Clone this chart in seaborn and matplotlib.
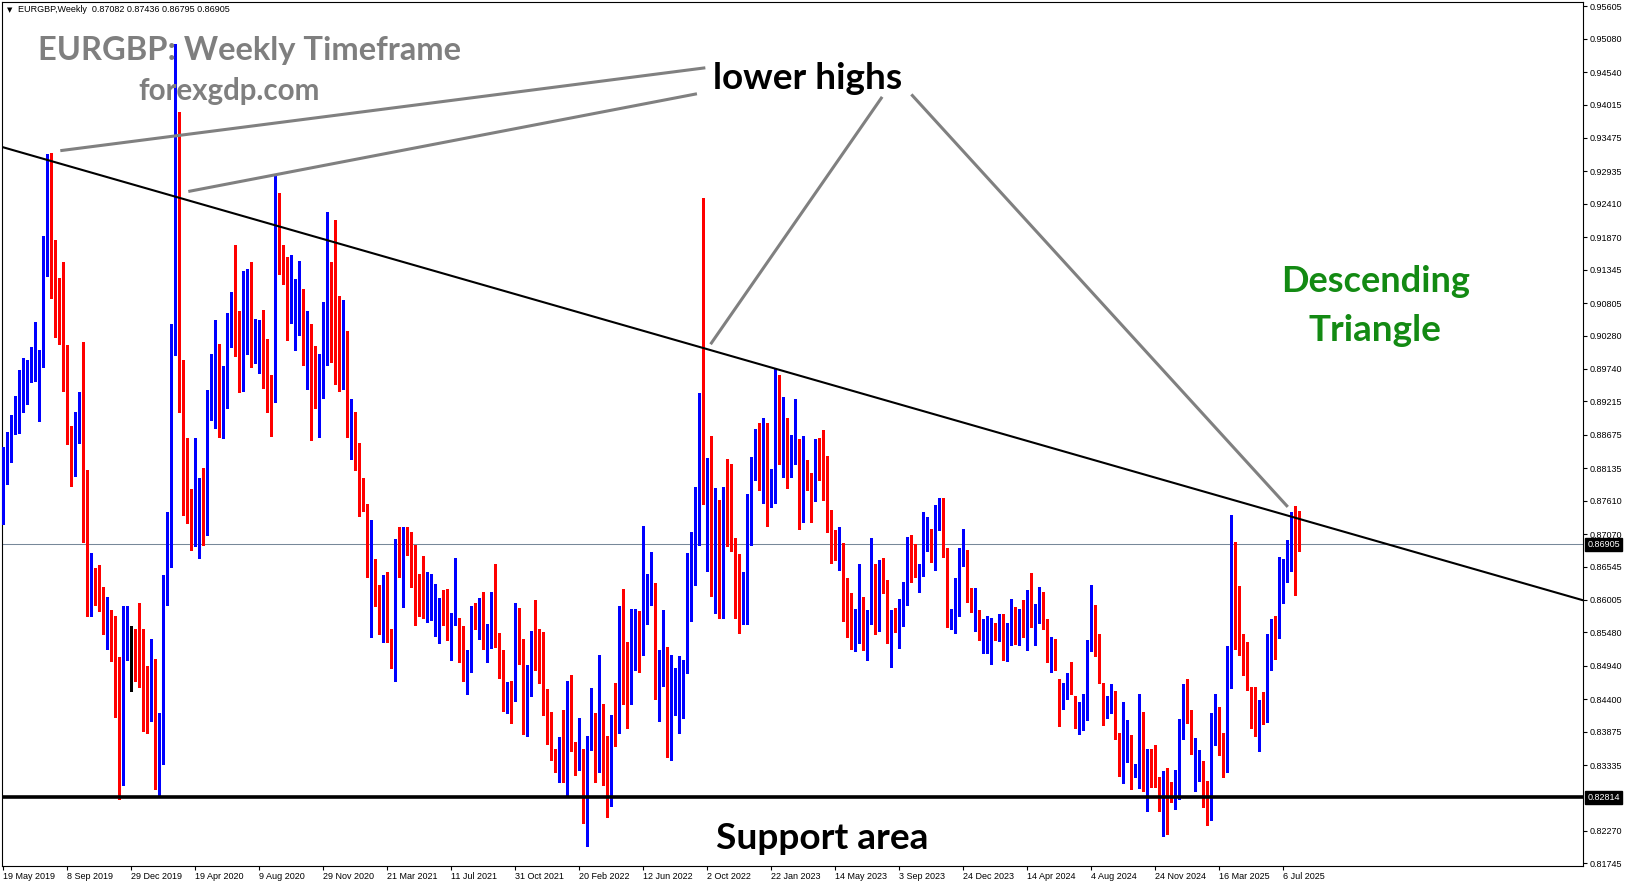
import numpy as np
import pandas as pd
import matplotlib
matplotlib.use('Agg')
import matplotlib.pyplot as plt
import seaborn as sns

W, H = 1631, 888

# weekly EURGBP candles, bar 0 = week of 19 May 2019, one bar per week
opens = [
    0.8753, 0.8799, 0.8834, 0.8886, 0.8902, 0.8925, 0.8935, 0.8954, 0.8960, 0.8969,
    0.8986, 0.9127, 0.9283, 0.9119, 0.9083, 0.9039, 0.8978, 0.8863, 0.8827, 0.8890,
    0.8906, 0.8725, 0.8616, 0.8642, 0.8636, 0.8607, 0.8547, 0.8568, 0.8535, 0.8416,
    0.8335, 0.8519, 0.8531, 0.8528, 0.8526, 0.8531, 0.8431, 0.8409, 0.8484, 0.8305,
    0.8337, 0.8635, 0.8672, 0.9009, 0.9164, 0.8937, 0.8831, 0.8775, 0.8690, 0.8744,
    0.8781, 0.8717, 0.8934, 0.8947, 0.9009, 0.8898, 0.8974, 0.9048, 0.9084, 0.9009,
    0.8940, 0.9084, 0.9097, 0.8997, 0.9022, 0.9039, 0.9004, 0.8918, 0.8930, 0.9252,
    0.9157, 0.9097, 0.9052, 0.9059, 0.9080, 0.9073, 0.9015, 0.9026, 0.8983, 0.8901,
    0.8963, 0.9037, 0.9069, 0.9112, 0.8985, 0.8951, 0.9000, 0.8876, 0.8890, 0.8842,
    0.8769, 0.8753, 0.8640, 0.8665, 0.8615, 0.8574, 0.8579, 0.8547, 0.8501, 0.8667,
    0.8649, 0.8707, 0.8701, 0.8680, 0.8604, 0.8600, 0.8586, 0.8577, 0.8577, 0.8575,
    0.8580, 0.8575, 0.8537, 0.8561, 0.8546, 0.8526, 0.8474, 0.8489, 0.8577, 0.8547,
    0.8565, 0.8518, 0.8533, 0.8570, 0.8542, 0.8493, 0.8419, 0.8458, 0.8439, 0.8567,
    0.8525, 0.8388, 0.8463, 0.8537, 0.8525, 0.8483, 0.8446, 0.8402, 0.8353, 0.8340,
    0.8365, 0.8315, 0.8467, 0.8362, 0.8327, 0.8353, 0.8250, 0.8372, 0.8384, 0.8327,
    0.8428, 0.8374, 0.8276, 0.8418, 0.8386, 0.8537, 0.8497, 0.8463, 0.8490, 0.8572,
    0.8533, 0.8563, 0.8596, 0.8611, 0.8462, 0.8491, 0.8498, 0.8383, 0.8423, 0.8448,
    0.8481, 0.8488, 0.8642, 0.8673, 0.8753, 0.8947, 0.8758, 0.8772, 0.8582, 0.8651,
    0.8583, 0.8751, 0.8753, 0.8674, 0.8590, 0.8568, 0.8586, 0.8695, 0.8809, 0.8836,
    0.8795, 0.8853, 0.8760, 0.8767, 0.8957, 0.8839, 0.8879, 0.8813, 0.8823, 0.8837,
    0.8743, 0.8805, 0.8783, 0.8765, 0.8844, 0.8830, 0.8773, 0.8722, 0.8707, 0.8677,
    0.8681, 0.8594, 0.8546, 0.8529, 0.8570, 0.8590, 0.8534, 0.8566, 0.8650, 0.8564,
    0.8624, 0.8620, 0.8535, 0.8574, 0.8558, 0.8574, 0.8593, 0.8673, 0.8657, 0.8640,
    0.8646, 0.8709, 0.8704, 0.8660, 0.8720, 0.8747, 0.8680, 0.8566, 0.8573, 0.8582,
    0.8659, 0.8672, 0.8591, 0.8578, 0.8573, 0.8534, 0.8528, 0.8534, 0.8539, 0.8539,
    0.8559, 0.8503, 0.8545, 0.8575, 0.8542, 0.8575, 0.8539, 0.8604, 0.8554, 0.8566,
    0.8598, 0.8553, 0.8506, 0.8507, 0.8456, 0.8425, 0.8442, 0.8488, 0.8436, 0.8389,
    0.8424, 0.8436, 0.8521, 0.8546, 0.8515, 0.8459, 0.8410, 0.8434, 0.8432, 0.8361,
    0.8340, 0.8347, 0.8361, 0.8323, 0.8317, 0.8383, 0.8281, 0.8335, 0.8319, 0.8301,
    0.8274, 0.8301, 0.8291, 0.8280, 0.8280, 0.8378, 0.8426, 0.8402, 0.8319, 0.8310,
    0.8319, 0.8279, 0.8260, 0.8366, 0.8409, 0.8378, 0.8355, 0.8459, 0.8629, 0.8569,
    0.8533, 0.8514, 0.8432, 0.8408, 0.8394, 0.8424, 0.8403, 0.8490, 0.8539, 0.8548,
    0.8613, 0.8638, 0.8648, 0.8747, 0.8708,
]
highs = [
    0.8848, 0.8872, 0.8900, 0.8930, 0.8972, 0.8991, 0.8988, 0.9009, 0.9050, 0.9004,
    0.9189, 0.9322, 0.9323, 0.9183, 0.9121, 0.9147, 0.9013, 0.8882, 0.8905, 0.8936,
    0.9018, 0.8810, 0.8676, 0.8652, 0.8657, 0.8621, 0.8605, 0.8584, 0.8575, 0.8509,
    0.8591, 0.8590, 0.8558, 0.8553, 0.8596, 0.8554, 0.8493, 0.8538, 0.8505, 0.8417,
    0.8641, 0.8743, 0.9046, 0.9500, 0.9390, 0.8988, 0.8863, 0.8780, 0.8862, 0.8797,
    0.8814, 0.8940, 0.8999, 0.9053, 0.9015, 0.8978, 0.9065, 0.9099, 0.9174, 0.9067,
    0.9132, 0.9136, 0.9147, 0.9055, 0.9053, 0.9069, 0.9022, 0.8964, 0.9288, 0.9259,
    0.9175, 0.9155, 0.9159, 0.9120, 0.9148, 0.9104, 0.9067, 0.9046, 0.9011, 0.8999,
    0.9083, 0.9228, 0.9147, 0.9215, 0.9092, 0.9085, 0.9036, 0.8925, 0.8904, 0.8855,
    0.8797, 0.8755, 0.8730, 0.8667, 0.8624, 0.8641, 0.8646, 0.8554, 0.8699, 0.8718,
    0.8718, 0.8718, 0.8711, 0.8690, 0.8642, 0.8672, 0.8645, 0.8643, 0.8627, 0.8604,
    0.8617, 0.8618, 0.8579, 0.8669, 0.8572, 0.8559, 0.8519, 0.8590, 0.8595, 0.8603,
    0.8613, 0.8561, 0.8614, 0.8659, 0.8547, 0.8519, 0.8468, 0.8470, 0.8595, 0.8588,
    0.8538, 0.8495, 0.8551, 0.8600, 0.8553, 0.8549, 0.8456, 0.8420, 0.8360, 0.8379,
    0.8423, 0.8469, 0.8479, 0.8371, 0.8409, 0.8360, 0.8380, 0.8458, 0.8418, 0.8511,
    0.8432, 0.8381, 0.8415, 0.8467, 0.8591, 0.8618, 0.8533, 0.8586, 0.8586, 0.8582,
    0.8720, 0.8642, 0.8678, 0.8628, 0.8519, 0.8584, 0.8525, 0.8512, 0.8491, 0.8510,
    0.8504, 0.8676, 0.8711, 0.8783, 0.8935, 0.9250, 0.8830, 0.8865, 0.8781, 0.8762,
    0.8783, 0.8828, 0.8821, 0.8701, 0.8674, 0.8645, 0.8772, 0.8832, 0.8877, 0.8886,
    0.8895, 0.8886, 0.8813, 0.8975, 0.8964, 0.8928, 0.8894, 0.8867, 0.8925, 0.8860,
    0.8865, 0.8827, 0.8805, 0.8860, 0.8863, 0.8875, 0.8834, 0.8746, 0.8714, 0.8718,
    0.8693, 0.8636, 0.8612, 0.8586, 0.8659, 0.8606, 0.8585, 0.8700, 0.8659, 0.8665,
    0.8668, 0.8633, 0.8585, 0.8587, 0.8602, 0.8629, 0.8702, 0.8706, 0.8691, 0.8658,
    0.8742, 0.8734, 0.8716, 0.8754, 0.8765, 0.8765, 0.8684, 0.8586, 0.8636, 0.8684,
    0.8715, 0.8682, 0.8620, 0.8620, 0.8584, 0.8570, 0.8574, 0.8571, 0.8563, 0.8577,
    0.8577, 0.8563, 0.8602, 0.8589, 0.8586, 0.8601, 0.8617, 0.8644, 0.8594, 0.8621,
    0.8613, 0.8569, 0.8541, 0.8537, 0.8472, 0.8466, 0.8482, 0.8500, 0.8446, 0.8436,
    0.8449, 0.8535, 0.8625, 0.8593, 0.8545, 0.8466, 0.8446, 0.8464, 0.8453, 0.8386,
    0.8436, 0.8407, 0.8382, 0.8335, 0.8448, 0.8419, 0.8359, 0.8360, 0.8366, 0.8314,
    0.8324, 0.8328, 0.8306, 0.8326, 0.8408, 0.8464, 0.8473, 0.8423, 0.8378, 0.8358,
    0.8340, 0.8307, 0.8418, 0.8449, 0.8428, 0.8385, 0.8526, 0.8738, 0.8694, 0.8623,
    0.8545, 0.8533, 0.8459, 0.8459, 0.8439, 0.8452, 0.8546, 0.8569, 0.8575, 0.8670,
    0.8666, 0.8697, 0.8742, 0.8752, 0.8744,
]
lows = [
    0.8723, 0.8788, 0.8823, 0.8869, 0.8871, 0.8905, 0.8918, 0.8953, 0.8955, 0.8890,
    0.8977, 0.9125, 0.9088, 0.9025, 0.9014, 0.8939, 0.8853, 0.8785, 0.8801, 0.8855,
    0.8694, 0.8574, 0.8575, 0.8593, 0.8583, 0.8545, 0.8521, 0.8502, 0.8411, 0.8278,
    0.8301, 0.8504, 0.8453, 0.8469, 0.8460, 0.8388, 0.8386, 0.8404, 0.8295, 0.8282,
    0.8335, 0.8593, 0.8654, 0.8997, 0.8904, 0.8738, 0.8725, 0.8681, 0.8688, 0.8669,
    0.8690, 0.8706, 0.8891, 0.8879, 0.8864, 0.8863, 0.8911, 0.9009, 0.8995, 0.8937,
    0.8938, 0.8998, 0.8977, 0.8984, 0.8968, 0.8944, 0.8905, 0.8865, 0.8921, 0.9127,
    0.9111, 0.9021, 0.9049, 0.9004, 0.9029, 0.8981, 0.8942, 0.8859, 0.8911, 0.8864,
    0.8927, 0.8980, 0.8985, 0.8950, 0.8939, 0.8942, 0.8864, 0.8829, 0.8811, 0.8737,
    0.8744, 0.8638, 0.8540, 0.8590, 0.8546, 0.8532, 0.8533, 0.8490, 0.8470, 0.8638,
    0.8589, 0.8673, 0.8622, 0.8560, 0.8575, 0.8572, 0.8565, 0.8568, 0.8542, 0.8531,
    0.8560, 0.8535, 0.8504, 0.8560, 0.8500, 0.8469, 0.8449, 0.8484, 0.8554, 0.8537,
    0.8521, 0.8500, 0.8523, 0.8525, 0.8474, 0.8421, 0.8418, 0.8402, 0.8437, 0.8497,
    0.8383, 0.8381, 0.8446, 0.8488, 0.8467, 0.8414, 0.8367, 0.8341, 0.8323, 0.8306,
    0.8306, 0.8283, 0.8357, 0.8317, 0.8325, 0.8240, 0.8203, 0.8358, 0.8306, 0.8323,
    0.8302, 0.8249, 0.8268, 0.8365, 0.8385, 0.8432, 0.8393, 0.8432, 0.8488, 0.8484,
    0.8511, 0.8561, 0.8593, 0.8440, 0.8404, 0.8462, 0.8346, 0.8341, 0.8414, 0.8386,
    0.8409, 0.8483, 0.8566, 0.8624, 0.8690, 0.8755, 0.8647, 0.8607, 0.8580, 0.8572,
    0.8572, 0.8687, 0.8680, 0.8572, 0.8547, 0.8561, 0.8561, 0.8690, 0.8795, 0.8779,
    0.8757, 0.8720, 0.8751, 0.8758, 0.8821, 0.8799, 0.8781, 0.8799, 0.8820, 0.8716,
    0.8727, 0.8778, 0.8727, 0.8761, 0.8794, 0.8762, 0.8711, 0.8660, 0.8665, 0.8649,
    0.8566, 0.8541, 0.8521, 0.8518, 0.8531, 0.8519, 0.8503, 0.8561, 0.8545, 0.8550,
    0.8612, 0.8531, 0.8492, 0.8548, 0.8523, 0.8558, 0.8592, 0.8629, 0.8637, 0.8613,
    0.8640, 0.8680, 0.8662, 0.8649, 0.8714, 0.8670, 0.8557, 0.8554, 0.8547, 0.8575,
    0.8655, 0.8598, 0.8581, 0.8550, 0.8536, 0.8514, 0.8515, 0.8497, 0.8535, 0.8534,
    0.8503, 0.8501, 0.8528, 0.8530, 0.8528, 0.8541, 0.8519, 0.8556, 0.8528, 0.8563,
    0.8554, 0.8500, 0.8484, 0.8488, 0.8397, 0.8424, 0.8441, 0.8449, 0.8393, 0.8383,
    0.8391, 0.8407, 0.8518, 0.8510, 0.8467, 0.8399, 0.8409, 0.8418, 0.8376, 0.8316,
    0.8304, 0.8339, 0.8295, 0.8314, 0.8296, 0.8292, 0.8260, 0.8298, 0.8298, 0.8260,
    0.8219, 0.8222, 0.8273, 0.8263, 0.8278, 0.8376, 0.8402, 0.8352, 0.8292, 0.8307,
    0.8265, 0.8236, 0.8245, 0.8366, 0.8350, 0.8315, 0.8323, 0.8458, 0.8521, 0.8512,
    0.8479, 0.8455, 0.8394, 0.8380, 0.8356, 0.8400, 0.8403, 0.8488, 0.8505, 0.8539,
    0.8596, 0.8630, 0.8647, 0.8608, 0.8680,
]
closes = [
    0.8813, 0.8842, 0.8895, 0.8902, 0.8918, 0.8954, 0.8956, 0.8958, 0.8971, 0.8984,
    0.9129, 0.9313, 0.9126, 0.9060, 0.9032, 0.8969, 0.8855, 0.8835, 0.8900, 0.8897,
    0.8722, 0.8607, 0.8635, 0.8625, 0.8622, 0.8563, 0.8586, 0.8511, 0.8416, 0.8337,
    0.8519, 0.8542, 0.8531, 0.8511, 0.8524, 0.8435, 0.8399, 0.8494, 0.8299, 0.8372,
    0.8603, 0.8650, 0.9039, 0.9180, 0.8939, 0.8799, 0.8775, 0.8693, 0.8752, 0.8788,
    0.8732, 0.8935, 0.8960, 0.8986, 0.8909, 0.8974, 0.9047, 0.9090, 0.9004, 0.8948,
    0.9089, 0.9106, 0.8998, 0.9030, 0.9048, 0.9009, 0.8916, 0.8910, 0.9255, 0.9163,
    0.9122, 0.9053, 0.9067, 0.9067, 0.9092, 0.8988, 0.9026, 0.8962, 0.8918, 0.8981,
    0.9018, 0.9152, 0.9048, 0.8997, 0.8941, 0.9006, 0.8885, 0.8893, 0.8853, 0.8769,
    0.8746, 0.8646, 0.8666, 0.8609, 0.8584, 0.8583, 0.8547, 0.8500, 0.8685, 0.8653,
    0.8716, 0.8698, 0.8693, 0.8616, 0.8601, 0.8588, 0.8589, 0.8579, 0.8600, 0.8600,
    0.8574, 0.8542, 0.8575, 0.8564, 0.8530, 0.8474, 0.8502, 0.8588, 0.8567, 0.8565,
    0.8538, 0.8540, 0.8570, 0.8558, 0.8495, 0.8433, 0.8458, 0.8441, 0.8572, 0.8530,
    0.8390, 0.8484, 0.8540, 0.8531, 0.8486, 0.8441, 0.8406, 0.8357, 0.8341, 0.8369,
    0.8318, 0.8463, 0.8364, 0.8327, 0.8406, 0.8255, 0.8367, 0.8384, 0.8343, 0.8425,
    0.8343, 0.8266, 0.8410, 0.8385, 0.8542, 0.8488, 0.8452, 0.8497, 0.8583, 0.8539,
    0.8588, 0.8597, 0.8618, 0.8462, 0.8498, 0.8507, 0.8395, 0.8432, 0.8451, 0.8488,
    0.8486, 0.8645, 0.8661, 0.8762, 0.8925, 0.8774, 0.8779, 0.8695, 0.8725, 0.8581,
    0.8753, 0.8744, 0.8686, 0.8590, 0.8572, 0.8586, 0.8716, 0.8806, 0.8846, 0.8799,
    0.8853, 0.8753, 0.8764, 0.8954, 0.8851, 0.8879, 0.8829, 0.8828, 0.8841, 0.8753,
    0.8794, 0.8791, 0.8770, 0.8853, 0.8830, 0.8763, 0.8722, 0.8714, 0.8680, 0.8684,
    0.8598, 0.8542, 0.8532, 0.8567, 0.8591, 0.8541, 0.8574, 0.8656, 0.8573, 0.8633,
    0.8620, 0.8532, 0.8582, 0.8558, 0.8585, 0.8607, 0.8699, 0.8663, 0.8644, 0.8657,
    0.8709, 0.8715, 0.8664, 0.8739, 0.8756, 0.8671, 0.8561, 0.8578, 0.8596, 0.8672,
    0.8669, 0.8602, 0.8584, 0.8581, 0.8543, 0.8539, 0.8539, 0.8553, 0.8536, 0.8562,
    0.8504, 0.8550, 0.8576, 0.8542, 0.8575, 0.8545, 0.8614, 0.8558, 0.8579, 0.8598,
    0.8556, 0.8515, 0.8514, 0.8489, 0.8437, 0.8459, 0.8473, 0.8459, 0.8395, 0.8429,
    0.8436, 0.8520, 0.8556, 0.8516, 0.8468, 0.8413, 0.8442, 0.8441, 0.8379, 0.8349,
    0.8365, 0.8369, 0.8328, 0.8330, 0.8386, 0.8295, 0.8350, 0.8312, 0.8300, 0.8293,
    0.8322, 0.8298, 0.8288, 0.8298, 0.8391, 0.8441, 0.8407, 0.8360, 0.8328, 0.8337,
    0.8279, 0.8249, 0.8383, 0.8408, 0.8373, 0.8366, 0.8500, 0.8680, 0.8570, 0.8534,
    0.8515, 0.8456, 0.8405, 0.8394, 0.8433, 0.8423, 0.8509, 0.8562, 0.8536, 0.8623,
    0.8659, 0.8664, 0.8735, 0.8721, 0.8691,
]

date_labels = ['19 May 2019', '8 Sep 2019', '29 Dec 2019', '19 Apr 2020', '9 Aug 2020',
               '29 Nov 2020', '21 Mar 2021', '11 Jul 2021', '31 Oct 2021', '20 Feb 2022',
               '12 Jun 2022', '2 Oct 2022', '22 Jan 2023', '14 May 2023', '3 Sep 2023',
               '24 Dec 2023', '14 Apr 2024', '4 Aug 2024', '24 Nov 2024', '16 Mar 2025',
               '6 Jul 2025']
weeks_per_label = 16

price_ticks = [0.95605, 0.95080, 0.94540, 0.94015, 0.93475, 0.92935, 0.92410, 0.91870,
               0.91345, 0.90805, 0.90280, 0.89740, 0.89215, 0.88675, 0.88135, 0.87610,
               0.87070, 0.86545, 0.86005, 0.85480, 0.84940, 0.84400, 0.83875, 0.83335,
               0.82270, 0.81745]
last_price = 0.86905
support_level = 0.82814
trend_prices = [0.9333, 0.8600]   # trendline value at left and right chart edge

header = 'EURGBP,Weekly  0.87082 0.87436 0.86795 0.86905'

df = pd.DataFrame({'open': opens, 'high': highs, 'low': lows, 'close': closes})
df['bar'] = np.arange(len(df))
df['colour'] = np.where(df['close'] > df['open'], '#0000FF',
                        np.where(df['close'] < df['open'], '#FF0000', '#000000'))

sns.set_theme(style='white')
plt.rcParams['font.family'] = ['Liberation Sans', 'DejaVu Sans']

fig = plt.figure(figsize=(W / 100, H / 100), dpi=100)
ax = fig.add_axes([2 / W, 1 - 866 / H, 1581 / W, 864 / H])
xlim = (-0.325, 394.9)
ax.set_xlim(*xlim)
ax.set_ylim(0.81703, 0.95674)

# candles
ax.vlines(df['bar'], df['low'], df['high'], colors=df['colour'], linewidth=0.75,
          antialiased=False, zorder=3)
body = (df['close'] - df['open']).abs().clip(lower=0.00012)
ax.bar(df['bar'], body, bottom=df[['open', 'close']].min(axis=1), width=0.78,
       color=df['colour'], linewidth=0, antialiased=False, zorder=3)

# lines
ax.axhline(last_price, color='#778899', linewidth=0.75, zorder=1)
ax.axhline(support_level, color='black', linewidth=2.6, zorder=4)
sns.lineplot(x=list(xlim), y=trend_prices, color='black', linewidth=1.5, ax=ax, zorder=4)

# grey pointers to the lower highs (bar, price)
pointers = [((14.25, 0.9327), (175.5, 0.9461)),
            ((46.25, 0.9261), (173.4, 0.9419)),
            ((176.8, 0.9014), (219.7, 0.9414)),
            ((227.0, 0.9418), (321.1, 0.8751))]
for (x0, y0), (x1, y1) in pointers:
    ax.plot([x0, x1], [y0, y1], color='#808080', linewidth=2.2, solid_capstyle='butt', zorder=5)

# axes look
for s in ax.spines.values():
    s.set_visible(True)
    s.set_color('black')
    s.set_linewidth(0.8)
ax.grid(False)
ax.yaxis.tick_right()
ax.set_yticks(price_ticks)
ax.set_yticklabels([f'{p:.5f}' for p in price_ticks])
ax.tick_params(axis='y', right=True, left=False, direction='out', length=3, width=0.8,
               pad=2, labelsize=6.5, colors='black')
ax.set_xticks(np.arange(len(date_labels)) * weeks_per_label)
ax.set_xticklabels(date_labels, ha='left')
ax.tick_params(axis='x', bottom=True, direction='out', length=3, width=0.8, pad=1.5,
               labelsize=6.5, colors='black')
ax.set_xlabel('')
ax.set_ylabel('')

for p in (last_price, support_level):
    ax.annotate(f'{p:.5f}', xy=(1, p), xycoords=('axes fraction', 'data'),
                xytext=(3.2, 0), textcoords='offset points', ha='left', va='center',
                fontsize=6.5, color='white', annotation_clip=False,
                bbox=dict(boxstyle='square,pad=0.22', fc='black', ec='black'))

# texts
fig.text(7 / W, 1 - 10 / H, '\u25bc', fontsize=5, va='center', color='black',
         family=['DejaVu Sans'])
fig.text(18 / W, 1 - 10 / H, header, fontsize=6.5, va='center', color='black')

renderer = fig.canvas.get_renderer()


def put_label(s, cx, base_y, width_px, colour):
    t = fig.text(cx / W, 1 - base_y / H, s, ha='center', va='baseline', fontsize=20,
                 fontweight='bold', color=colour, family=['Lato', 'DejaVu Sans'])
    t.set_fontsize(20 * width_px / t.get_window_extent(renderer).width)


put_label('EURGBP: Weekly Timeframe', 250, 60, 423, '#7F7F7F')
put_label('forexgdp.com', 229, 100, 182, '#7F7F7F')
put_label('lower highs', 808, 89, 189, 'black')
put_label('Descending', 1376, 292, 189, '#138A13')
put_label('Triangle', 1375, 341, 133, '#138A13')
put_label('Support area', 822, 849, 212, 'black')

fig.savefig('out.png', dpi=100)
